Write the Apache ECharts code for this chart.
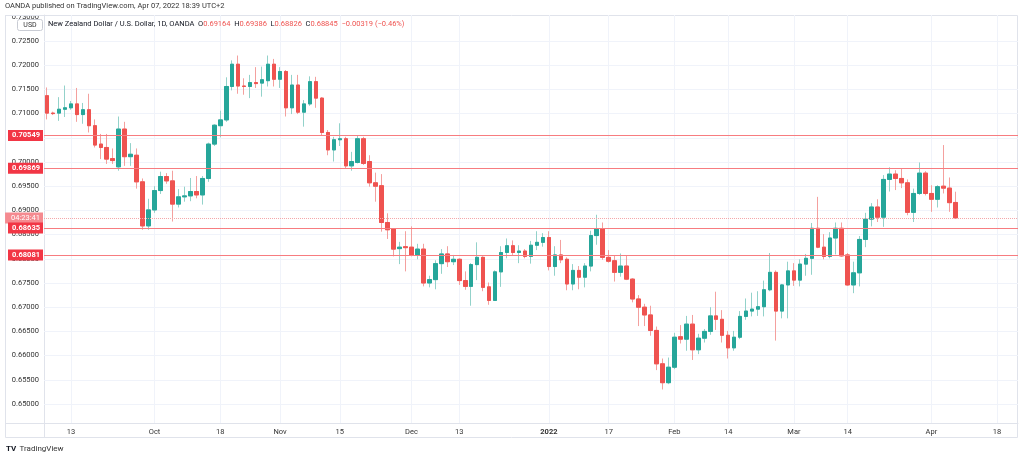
<!DOCTYPE html>
<html><head><meta charset="utf-8">
<script src="https://cdn.jsdelivr.net/npm/echarts@6/dist/echarts.min.js"></script>
<style>html,body{margin:0;padding:0;background:#fff}#c{width:1024px;height:458px}</style>
</head><body><div id="c"></div>
<script>
// OHLC values, NZD/USD daily (OANDA), 2021-09-07 .. 2022-04-07
const opens = [0.7137,0.7101,0.7101,0.7109,0.7112,0.7120,0.7098,0.7108,0.7075,0.7037,
0.7030,0.7007,0.6990,0.7068,0.7011,0.7014,0.6959,0.6868,0.6901,0.6941,
0.6970,0.6961,0.6913,0.6928,0.6930,0.6939,0.6932,0.6966,0.7037,0.7075,
0.7087,0.7156,0.7202,0.7157,0.7156,0.7164,0.7163,0.7168,0.7202,0.7171,
0.7187,0.7112,0.7159,0.7103,0.7120,0.7166,0.7132,0.7061,0.7025,0.7046,
0.7048,0.6992,0.6999,0.7048,0.7001,0.6957,0.6951,0.6875,0.6862,0.6821,
0.6825,0.6824,0.6808,0.6820,0.6750,0.6757,0.6790,0.6810,0.6794,0.6799,
0.6755,0.6743,0.6788,0.6803,0.6742,0.6714,0.6773,0.6813,0.6827,0.6813,
0.6816,0.6805,0.6828,0.6834,0.6844,0.6784,0.6808,0.6799,0.6748,0.6776,
0.6762,0.6785,0.6848,0.6862,0.6803,0.6796,0.6772,0.6785,0.6758,0.6717,
0.6700,0.6684,0.6652,0.6583,0.6544,0.6576,0.6639,0.6634,0.6665,0.6612,
0.6636,0.6650,0.6682,0.6675,0.6642,0.6616,0.6638,0.6681,0.6692,0.6696,
0.6701,0.6736,0.6772,0.6692,0.6746,0.6775,0.6756,0.6789,0.6801,0.6863,
0.6824,0.6805,0.6843,0.6863,0.6808,0.6746,0.6771,0.6840,0.6882,0.6907,
0.6886,0.6964,0.6975,0.6966,0.6957,0.6896,0.6935,0.6977,0.6935,0.6923,
0.6950,0.6946,0.69164];
const highs = [0.7154,0.7104,0.7134,0.7158,0.7126,0.7153,0.7122,0.7141,0.7088,0.7058,
0.7058,0.7028,0.7094,0.7083,0.7039,0.7028,0.6966,0.6924,0.6950,0.6980,
0.6977,0.6982,0.6944,0.6949,0.6967,0.6971,0.6971,0.7040,0.7078,0.7106,
0.7175,0.7210,0.7220,0.7173,0.7180,0.7196,0.7197,0.7220,0.7213,0.7196,
0.7190,0.7180,0.7180,0.7128,0.7177,0.7176,0.7134,0.7066,0.7052,0.7080,
0.7052,0.7021,0.7054,0.7052,0.7014,0.6978,0.6975,0.6894,0.6863,0.6835,
0.6857,0.6867,0.6831,0.6831,0.6765,0.6797,0.6820,0.6826,0.6808,0.6801,
0.6774,0.6791,0.6834,0.6805,0.6751,0.6776,0.6826,0.6842,0.6838,0.6828,
0.6820,0.6837,0.6857,0.6853,0.6857,0.6826,0.6839,0.6803,0.6789,0.6785,
0.6791,0.6858,0.6891,0.6875,0.6818,0.6806,0.6811,0.6806,0.6760,0.6725,
0.6707,0.6703,0.6660,0.6594,0.6596,0.6647,0.6663,0.6682,0.6684,0.6645,
0.6655,0.6700,0.6732,0.6694,0.6651,0.6651,0.6692,0.6718,0.6730,0.6733,
0.6755,0.6812,0.6776,0.6748,0.6794,0.6791,0.6799,0.6810,0.6874,0.6928,
0.6851,0.6855,0.6875,0.6875,0.6812,0.6794,0.6847,0.6895,0.6915,0.6923,
0.6973,0.6989,0.6983,0.6987,0.6964,0.6945,0.6999,0.6981,0.6952,0.6952,
0.7035,0.6968,0.69386];
const lows = [0.7088,0.7097,0.7085,0.7093,0.7108,0.7083,0.7079,0.7061,0.7030,0.7006,
0.6996,0.6996,0.6982,0.6992,0.6992,0.6945,0.6860,0.6860,0.6895,0.6934,
0.6955,0.6877,0.6906,0.6918,0.6919,0.6925,0.6912,0.6959,0.7033,0.7051,
0.7083,0.7148,0.7141,0.7139,0.7132,0.7153,0.7135,0.7156,0.7156,0.7153,
0.7094,0.7099,0.7099,0.7073,0.7116,0.7112,0.7055,0.7014,0.7001,0.7033,
0.6987,0.6982,0.6997,0.6994,0.6949,0.6918,0.6856,0.6841,0.6805,0.6789,
0.6774,0.6805,0.6799,0.6743,0.6741,0.6737,0.6769,0.6783,0.6787,0.6746,
0.6736,0.6703,0.6756,0.6733,0.6705,0.6713,0.6742,0.6801,0.6808,0.6791,
0.6801,0.6790,0.6818,0.6825,0.6776,0.6765,0.6791,0.6735,0.6735,0.6737,
0.6741,0.6774,0.6829,0.6798,0.6792,0.6753,0.6763,0.6756,0.6710,0.6661,
0.6661,0.6641,0.6570,0.6530,0.6541,0.6572,0.6625,0.6610,0.6591,0.6603,
0.6627,0.6643,0.6653,0.6627,0.6594,0.6610,0.6634,0.6674,0.6681,0.6682,
0.6681,0.6733,0.6631,0.6677,0.6677,0.6744,0.6743,0.6765,0.6767,0.6822,
0.6799,0.6801,0.6809,0.6804,0.6744,0.6729,0.6743,0.6824,0.6867,0.6876,
0.6866,0.6939,0.6942,0.6946,0.6890,0.6876,0.6932,0.6931,0.6897,0.6906,
0.6935,0.6897,0.68826];
const closes = [0.7101,0.7100,0.7109,0.7112,0.7120,0.7098,0.7108,0.7075,0.7035,0.7030,
0.7006,0.7003,0.7068,0.7011,0.7016,0.6959,0.6868,0.6901,0.6941,0.6970,
0.6961,0.6913,0.6928,0.6930,0.6939,0.6932,0.6966,0.7037,0.7076,0.7087,
0.7156,0.7202,0.7157,0.7156,0.7164,0.7162,0.7170,0.7202,0.7171,0.7187,
0.7112,0.7159,0.7103,0.7120,0.7166,0.7132,0.7061,0.7025,0.7046,0.7048,
0.6992,0.7001,0.7048,0.6997,0.6957,0.6950,0.6875,0.6860,0.6820,0.6824,
0.6823,0.6808,0.6820,0.6750,0.6757,0.6790,0.6810,0.6794,0.6799,0.6755,
0.6743,0.6788,0.6803,0.6741,0.6714,0.6773,0.6813,0.6827,0.6813,0.6816,
0.6805,0.6828,0.6834,0.6844,0.6784,0.6808,0.6798,0.6748,0.6776,0.6762,
0.6785,0.6848,0.6862,0.6803,0.6795,0.6772,0.6785,0.6758,0.6717,0.6700,
0.6684,0.6652,0.6583,0.6544,0.6576,0.6638,0.6634,0.6665,0.6612,0.6636,
0.6650,0.6682,0.6675,0.6642,0.6616,0.6638,0.6681,0.6692,0.6696,0.6701,
0.6736,0.6772,0.6692,0.6746,0.6775,0.6756,0.6789,0.6801,0.6863,0.6824,
0.6805,0.6843,0.6863,0.6806,0.6746,0.6771,0.6840,0.6882,0.6907,0.6886,
0.6964,0.6975,0.6966,0.6957,0.6896,0.6935,0.6977,0.6935,0.6923,0.6949,
0.6946,0.6916,0.68845];

// x-axis tick labels (date -> text)
const tickDates = ['2021-09-13','2021-10-01','2021-10-18','2021-11-01','2021-11-15','2021-12-01','2021-12-13','2022-01-03','2022-01-17','2022-02-01','2022-02-14','2022-03-01','2022-03-14','2022-04-01','2022-04-18'];
const tickTexts = ['13','Oct','18','Nov','15','Dec','13','2022','17','Feb','14','Mar','14','Apr','18'];
// y-axis tick values
const priceTicks = [0.65,0.655,0.66,0.665,0.67,0.675,0.68,0.685,0.69,0.695,0.70,0.705,0.71,0.715,0.72,0.725,0.73];
// horizontal price levels
const levels = [0.70549, 0.69869, 0.68635, 0.68081];
const lastPrice = 0.68845;
const countdown = '04:23:41';

// trading-day calendar (Mon-Fri) from first bar to a few days past the last bar
function tradingDays(start, end){
  const out=[]; const d=new Date(start+'T00:00:00Z'); const e=new Date(end+'T00:00:00Z');
  while(d<=e){ const w=d.getUTCDay(); if(w!==0&&w!==6){ out.push(d.toISOString().slice(0,10)); } d.setUTCDate(d.getUTCDate()+1); }
  return out;
}
const categories = tradingDays('2021-09-07','2022-04-21');

const wickData = opens.map((o,i)=>[o, closes[i], lows[i], highs[i]]);
const bodyData = opens.map((o,i)=>[o, closes[i], Math.min(o,closes[i]), Math.max(o,closes[i])]);

const FONT = 'Roboto, "Open Sans", sans-serif';
const GRID = '#f0f3fa';
const chart = echarts.init(document.getElementById('c'), null, {renderer:'canvas'});

const gridLines = priceTicks.slice(0,16).map(v=>({yAxis:v}))
  .concat(tickDates.map(d=>({xAxis:d})));

const levelLines = [{
  yAxis:lastPrice,
  lineStyle:{color:'#f4a7aa', width:1, type:'dotted'},
  label:{show:true, position:'start', formatter:countdown, backgroundColor:'#f58a90', color:'#fff',
         fontSize:7.5, fontFamily:FONT, padding:[2,3,1,6], distance:1}
}].concat(levels.map(v=>({
  yAxis:v,
  lineStyle:{color:'#f77c80', width:1, type:'solid'},
  label:{show:true, position:'start', formatter:v.toFixed(5), backgroundColor:'#f23645', color:'#fff',
         fontSize:7.5, fontFamily:FONT, fontWeight:'bold', padding:[2,3,1,4], distance:1}
})));

chart.setOption({
  animation:false,
  backgroundColor:'#ffffff',
  grid:{left:44, right:6, top:15, bottom:35},
  xAxis:{
    type:'category', data:categories, boundaryGap:true,
    axisLine:{show:true, lineStyle:{color:'#e0e3eb'}},
    axisTick:{show:false},
    splitLine:{show:false},
    axisLabel:{
      interval:(idx,val)=>tickDates.indexOf(val)>=0,
      formatter:(val)=>{ const t=tickTexts[tickDates.indexOf(val)]; return t==='2022' ? '{b|2022}' : t; },
      color:'#333', fontSize:7.5, fontFamily:FONT, margin:5,
      rich:{b:{fontWeight:'bold', fontSize:7.5, color:'#333', fontFamily:FONT}}
    }
  },
  yAxis:{
    type:'value', position:'left', min:0.646074, max:0.730372, scale:true,
    axisLine:{show:true, lineStyle:{color:'#e0e3eb'}},
    axisTick:{show:false},
    splitLine:{show:false},
    axisLabel:{customValues:priceTicks, formatter:(v)=>v.toFixed(5), color:'#333', fontSize:7.5, fontFamily:FONT, margin:5}
  },
  series:[
    {
      type:'candlestick', name:'wick', data:wickData, barWidth:4, z:2,
      itemStyle:{color:'#26a69a', color0:'#ef5350', borderColor:'#93d2ca', borderColor0:'#f4a09e', borderWidth:1},
      markLine:{silent:true, symbol:['none','none'], z:1, animation:false, precision:6,
        lineStyle:{color:GRID, width:1, type:'solid'}, label:{show:false}, emphasis:{disabled:true},
        data:gridLines}
    },
    {
      type:'candlestick', name:'body', data:bodyData, barWidth:4, z:3,
      itemStyle:{color:'#26a69a', color0:'#ef5350', borderColor:'#26a69a', borderColor0:'#ef5350', borderWidth:1},
      markLine:{silent:true, symbol:['none','none'], z:6, animation:false, precision:6, emphasis:{disabled:true},
        data:levelLines}
    }
  ],
  graphic:[
    {type:'rect', shape:{x:5.5, y:15.5, width:1012, height:422}, style:{fill:null, stroke:'#e0e3eb', lineWidth:1}, z:0},
    {type:'rect', shape:{x:0, y:0, width:44, height:15}, style:{fill:'#fff'}, z:50},
    {type:'line', shape:{x1:5, y1:423.5, x2:44, y2:423.5}, style:{stroke:'#e0e3eb', lineWidth:1}},
    {type:'line', shape:{x1:44.5, y1:423, x2:44.5, y2:438}, style:{stroke:'#e0e3eb', lineWidth:1}},
    {type:'line', shape:{x1:5, y1:15.5, x2:44, y2:15.5}, style:{stroke:'#e0e3eb', lineWidth:1}, z:51},
    {type:'text', left:5, top:2, z:52, style:{text:'OANDA published on TradingView.com, Apr 07, 2022 18:39 UTC+2', fill:'#333', font:'7.5px '+FONT}},
    {type:'rect', shape:{x:17.5, y:19.5, width:25, height:11, r:2}, style:{fill:'#fff', stroke:'#c9ccd4', lineWidth:1}, z:20},
    {type:'text', x:30, y:25, style:{text:'USD', fill:'#333', font:'7px '+FONT, align:'center', verticalAlign:'middle'}, z:21},
    {type:'text', x:48, y:24, z:20, style:{
      text:'{t|New Zealand Dollar / U.S. Dollar, 1D, OANDA}  {k|O}{v|0.69164}  {k|H}{v|0.69386}  {k|L}{v|0.68826}  {k|C}{v|0.68845}  {v|\u22120.00319 (\u22120.46%)}',
      verticalAlign:'middle', font:'7.5px '+FONT,
      rich:{t:{fill:'#131722', font:'7.5px '+FONT}, k:{fill:'#131722', font:'7.5px '+FONT}, v:{fill:'#ef5350', font:'7.5px '+FONT}}
    }},
    {type:'text', x:6, y:449, style:{text:'{l|TV} {n|TradingView}', verticalAlign:'middle',
      rich:{l:{fill:'#131722', font:'bold 8px '+FONT}, n:{fill:'#333', font:'8px '+FONT}}}}
  ]
});
</script>
</body></html>
